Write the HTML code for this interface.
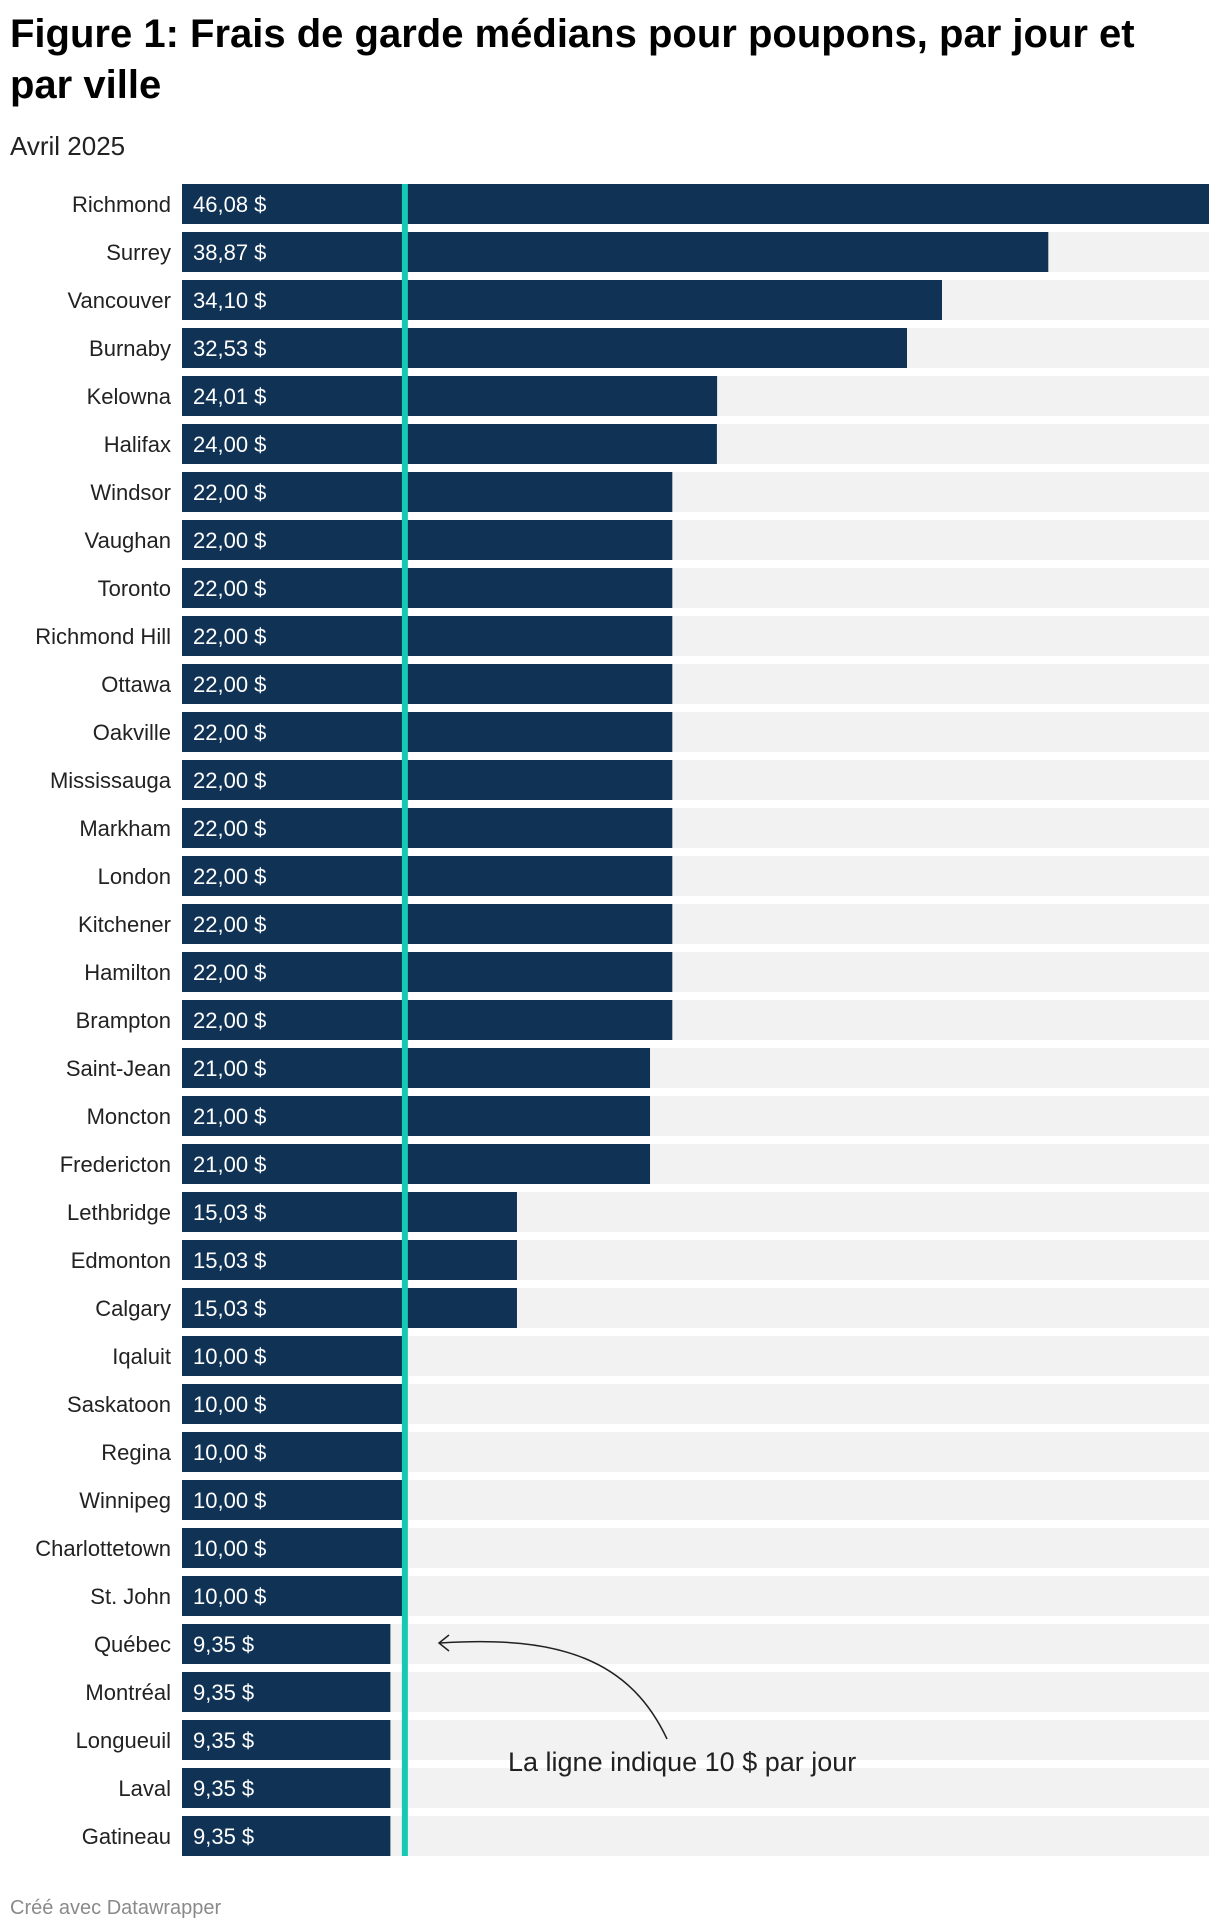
<!DOCTYPE html>
<html><head><meta charset="utf-8">
<style>
body{margin:0;background:#fff;width:1220px;height:1932px;overflow:hidden;font-family:"Liberation Sans",sans-serif;}
#title{position:absolute;left:10px;top:9px;width:1210px;font-size:40px;font-weight:bold;line-height:51px;color:#000;letter-spacing:0px;white-space:nowrap;}
#sub{position:absolute;left:10px;top:131px;font-size:26px;color:#222;}
#foot{position:absolute;left:10px;top:1897px;font-size:20px;color:#8a8a8a;}
svg{position:absolute;left:0;top:0;}
</style></head><body>
<div id="title">Figure 1: Frais de garde médians pour poupons, par jour et<br>par ville</div>
<div id="sub">Avril 2025</div>
<svg id="chart" width="1220" height="1932"></svg>
<div id="foot">Créé avec Datawrapper</div>
<script>
const cities=["Richmond","Surrey","Vancouver","Burnaby","Kelowna","Halifax","Windsor","Vaughan","Toronto","Richmond Hill","Ottawa","Oakville","Mississauga","Markham","London","Kitchener","Hamilton","Brampton","Saint-Jean","Moncton","Fredericton","Lethbridge","Edmonton","Calgary","Iqaluit","Saskatoon","Regina","Winnipeg","Charlottetown","St. John","Québec","Montréal","Longueuil","Laval","Gatineau"];
const values=[46.08,38.87,34.10,32.53,24.01,24.00,22,22,22,22,22,22,22,22,22,22,22,22,21,21,21,15.03,15.03,15.03,10,10,10,10,10,10,9.35,9.35,9.35,9.35,9.35];
const refValue=[10];
const NS="http://www.w3.org/2000/svg";
const svg=document.getElementById('chart');
const x0=182,x1=1209,top0=184,pitch=48,bh=40;
const maxV=Math.max(...values);
const xs=v=>x0+(x1-x0)*v/maxV;
const ys=i=>top0+i*pitch;
function mk(t,a){const e=document.createElementNS(NS,t);for(const k in a)e.setAttribute(k,a[k]);svg.appendChild(e);return e;}
cities.forEach((c,i)=>{
  const bg=mk('rect',{x:x0,y:ys(i),width:x1-x0,height:bh,fill:'#f2f2f2'});
  
  
  const b=mk('rect',{x:x0,y:ys(i),width:xs(values[i])-x0,height:bh,fill:'#103254'});
  
  
  const l=mk('text',{x:171,y:ys(i)+bh/2+8,'text-anchor':'end','font-size':22,fill:'#222'});
  l.textContent=c;
  
  
  const v=mk('text',{x:193,y:ys(i)+bh/2+8,'font-size':22,fill:'#fff'});
  v.textContent=values[i].toFixed(2).replace('.',',')+' $';
  
  
});
const rl=mk('rect',{x:xs(refValue[0])-3,y:top0,width:6,height:ys(cities.length-1)+bh-top0,fill:'#16c9b3'});


const ar=mk('path',{d:'M667,1739 C630,1660 560,1635 440,1643',fill:'none',stroke:'#222','stroke-width':1.5});


const ah=mk('path',{d:'M449,1635 L439,1643 L449,1651',fill:'none',stroke:'#222','stroke-width':1.5});


const at=mk('text',{x:508,y:1771,'font-size':27,fill:'#222'});
at.textContent='La ligne indique 10 $ par jour';


</script>
</body></html>
